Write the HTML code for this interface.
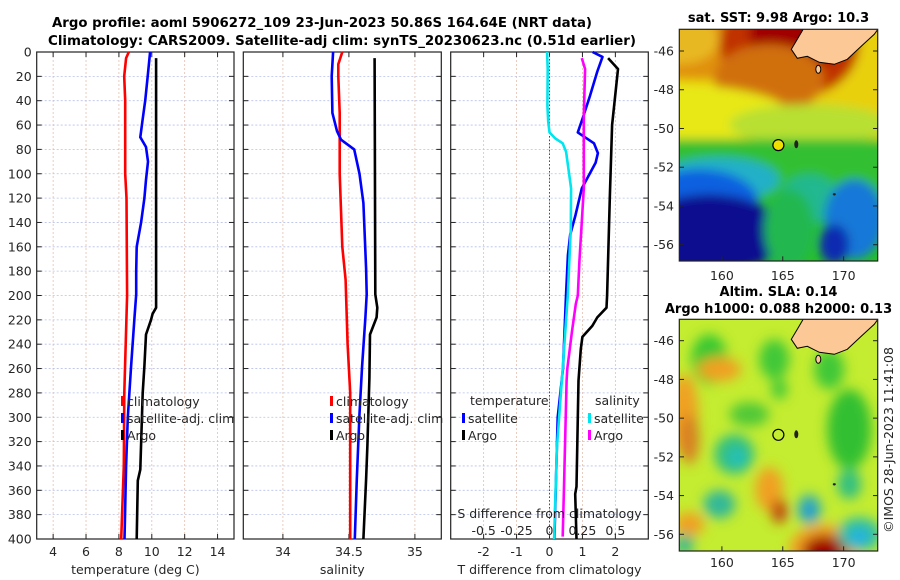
<!DOCTYPE html>
<html><head><meta charset="utf-8"><style>
html,body{margin:0;padding:0;background:#fff;width:900px;height:580px;overflow:hidden}
svg{display:block;font-family:"DejaVu Sans","Liberation Sans",sans-serif}
</style></head><body>
<svg id="fig" width="900" height="580" viewBox="0 0 900 580" xmlns="http://www.w3.org/2000/svg">
<defs>
<filter id="blur1" x="-20%" y="-20%" width="140%" height="140%"><feGaussianBlur stdDeviation="5"/></filter>
<filter id="blur2" x="-20%" y="-20%" width="140%" height="140%"><feGaussianBlur stdDeviation="6"/></filter>
<clipPath id="clipM1"><rect x="679.3" y="29.3" width="198.4" height="231.7"/></clipPath>
<clipPath id="clipM2"><rect x="679.3" y="319.3" width="198.4" height="231.7"/></clipPath>
</defs>
<text x="52" y="27" textLength="540" lengthAdjust="spacingAndGlyphs" font-weight="bold" font-size="13.4">Argo profile: aoml 5906272_109 23-Jun-2023 50.86S 164.64E (NRT data)</text>
<text x="48" y="45" textLength="588" lengthAdjust="spacingAndGlyphs" font-weight="bold" font-size="13.4">Climatology: CARS2009. Satellite-adj clim: synTS_20230623.nc (0.51d earlier)</text>
<g id="maps"></g>
<g id="panels"></g>
</svg>
<script>
// ---- data ----
const depthTicks=[0,20,40,60,80,100,120,140,160,180,200,220,240,260,280,300,320,340,360,380,400];
const tempTicks=[4,6,8,10,12,14];
const salTicks=[34,34.5,35];
const tdiffTicks=[-2,-1,0,1,2];
const sdiffTicks=[-0.5,-0.25,0,0.25,0.5];
const sdiffTickLabels=["-0.5","-0.25","0","0.25","0.5"];

const tempClimDepth=[0,5,20,40,100,120,200,280,340,400];
const tempClim=[8.6,8.44,8.32,8.38,8.38,8.46,8.5,8.33,8.3,8.14];
const tempSatDepth=[0,20,40,55,70,78,90,105,120,140,160,180,199,218,258,300,340,400];
const tempSat=[9.9,9.75,9.6,9.45,9.3,9.65,9.77,9.65,9.55,9.35,9.08,9.05,9.05,8.95,8.74,8.54,8.44,8.34];
const tempArgoDepth=[5,100,200,210,215,220,232,258,280,343,352,400];
const tempArgo=[10.26,10.26,10.26,10.26,10.05,9.95,9.65,9.55,9.45,9.3,9.15,9.08];

const salClimDepth=[0,10,20,50,100,160,187,240,280,400];
const salClim=[34.45,34.42,34.42,34.43,34.43,34.45,34.475,34.49,34.51,34.51];
const salSatDepth=[0,20,50,65,72,80,100,124,178,199,218,258,297,351,400];
const salSat=[34.38,34.37,34.375,34.41,34.44,34.54,34.58,34.61,34.63,34.635,34.625,34.6,34.58,34.56,34.545];
const salArgoDepth=[5,199,210,218,232,268,323,351,400];
const salArgo=[34.695,34.7,34.715,34.71,34.66,34.655,34.64,34.63,34.61];

const tdiffSatDepth=[0,4,16,36,55,66,75,83,91,112,134,150,167,200,260,300,400];
const tdiffSat=[1.31,1.61,1.45,1.23,1.0,0.86,1.35,1.47,1.4,0.98,0.79,0.63,0.56,0.5,0.41,0.25,0.15];
const tdiffArgoDepth=[5,14,60,120,200,210,218,225,234,244,270,357,363,400];
const tdiffArgo=[1.78,2.08,1.9,1.83,1.75,1.73,1.45,1.3,1.0,0.95,0.88,0.82,0.78,0.82];
const sdiffSatDepth=[0,14,44,57,66,71,75,82,112,145,200,260,325,400];
const sdiffSat=[-0.018,-0.014,-0.016,-0.01,0,0.043,0.1,0.126,0.164,0.162,0.139,0.10,0.056,0.035];
const sdiffArgoDepth=[5,14,52,112,172,200,207,230,260,270,357,398];
const sdiffArgo=[0.245,0.27,0.26,0.26,0.227,0.215,0.2,0.17,0.135,0.13,0.11,0.10];

const lonTicks=[160,165,170];
const latTicks=[-46,-48,-50,-52,-54,-56];
const argoLon=164.64, argoLat=-50.86;

// ---- axes ----
const NS="http://www.w3.org/2000/svg";
const TOP=52, BOT=539;
const yD=d=>TOP+d*(BOT-TOP)/400;
const P1={l:36.7,r:234}, P2={l:243.3,r:441.3}, P3={l:450.7,r:648.3};
const xT=t=>P1.l+(t-3)*(P1.r-P1.l)/12;
const xS=s=>P2.l+(s-33.7)*(P2.r-P2.l)/1.5;
const xTd=t=>P3.l+(t+3)*(P3.r-P3.l)/6;
const xSd=s=>xTd(s*4);
const lonX=(m,lon)=>679.3+(lon-156.5)*(198.4/16.3);
const latY=(m,lat)=>m.y0+(-45.0-lat)*(m.ly);

function el(tag,attrs,parent){const e=document.createElementNS(NS,tag);for(const k in attrs)e.setAttribute(k,attrs[k]);parent.appendChild(e);return e;}
const panels=document.getElementById('panels');
const maps=document.getElementById('maps');

function drawPanel(name,P,xf,ticks,labels,yLabels){
  const g=el('g',{},panels);
  
  
  ticks.forEach(t=>{const x=xf(t);
    const gl=el('line',{x1:x,x2:x,y1:TOP,y2:BOT,stroke:'#e6bfae','stroke-width':0.8,'stroke-dasharray':'2 2'},g);
    
    
  });
  depthTicks.forEach(d=>{const y=yD(d);
    const gl=el('line',{x1:P.l,x2:P.r,y1:y,y2:y,stroke:'#b8c0ec','stroke-width':0.8,'stroke-dasharray':'2 2'},g);
    
    
    el('line',{x1:P.l,x2:P.l+5,y1:y,y2:y,stroke:'#222','stroke-width':1},g);
    el('line',{x1:P.r-5,x2:P.r,y1:y,y2:y,stroke:'#222','stroke-width':1},g);
    if(yLabels){const tx=el('text',{x:P.l-5,y:y+4.5,'text-anchor':'end','font-size':12.5,fill:'#262626'},g);tx.textContent=d;
      
      }
  });
  ticks.forEach((t,i)=>{const x=xf(t);
    el('line',{x1:x,x2:x,y1:BOT,y2:BOT-5,stroke:'#222','stroke-width':1},g);
    el('line',{x1:x,x2:x,y1:TOP,y2:TOP+5,stroke:'#222','stroke-width':1},g);
    if(labels){const tx=el('text',{x:x,y:556,'text-anchor':'middle','font-size':12.5,fill:'#262626'},g);tx.textContent=labels[i];
      
      }
  });
  const fr=el('rect',{x:P.l,y:TOP,width:P.r-P.l,height:BOT-TOP,fill:'none',stroke:'#222','stroke-width':1.2},g);
  
  
  return g;
}
function line(g,name,xf,depths,vals,color){
  const pts=depths.map((d,i)=>xf(vals[i]).toFixed(1)+','+yD(d).toFixed(1)).join(' ');
  const p=el('polyline',{points:pts,fill:'none',stroke:color,'stroke-width':2.6,'stroke-linejoin':'round'},g);
  
  
}
function text(g,name,x,y,s,attrs){const t=el('text',Object.assign({x:x,y:y,'font-size':12.5,fill:'#262626'},attrs||{}),g);t.textContent=s;
  
  return t;}
function legend(g,name,x,y,entries){
  const lg=el('g',{},g);
  
  
  entries.forEach((e,i)=>{const yy=y+i*17;
    el('rect',{x:x,y:yy-9,width:3,height:10,fill:e[1]},lg);
    if(e[0]){const t=el('text',{x:x+6,y:yy+1,'font-size':12.5,fill:'#262626'},lg);t.textContent=e[0];}
  });
}

// panel 1
const g1=drawPanel('temperature-panel',P1,xT,tempTicks,tempTicks.map(String),true);
line(g1,'temp-climatology-line',xT,tempClimDepth,tempClim,'#ff0000');
line(g1,'temp-satellite-line',xT,tempSatDepth,tempSat,'#0000ff');
line(g1,'temp-argo-line',xT,tempArgoDepth,tempArgo,'#000000');
text(g1,'temperature-axis-title',(P1.l+P1.r)/2,574,'temperature (deg C)',{'text-anchor':'middle'});
legend(g1,'temperature-legend',121,405,[['climatology','#ff0000'],['satellite-adj. clim','#0000ff'],['Argo','#000']]);

// panel 2
const g2=drawPanel('salinity-panel',P2,xS,salTicks,['34','34.5','35'],false);
line(g2,'sal-climatology-line',xS,salClimDepth,salClim,'#ff0000');
line(g2,'sal-satellite-line',xS,salSatDepth,salSat,'#0000ff');
line(g2,'sal-argo-line',xS,salArgoDepth,salArgo,'#000000');
text(g2,'salinity-axis-title',(P2.l+P2.r)/2,574,'salinity',{'text-anchor':'middle'});
legend(g2,'salinity-legend',330,405,[['climatology','#ff0000'],['satellite-adj. clim','#0000ff'],['Argo','#000']]);

// panel 3
const g3=drawPanel('difference-panel',P3,xTd,tdiffTicks,tdiffTicks.map(String),false);
const zl=el('line',{x1:xTd(0),x2:xTd(0),y1:TOP,y2:BOT,stroke:'#4a5a2a','stroke-width':1,'stroke-dasharray':'1.5 2'},g3);


line(g3,'tdiff-satellite-line',xTd,tdiffSatDepth,tdiffSat,'#0000ff');
line(g3,'tdiff-argo-line',xTd,tdiffArgoDepth,tdiffArgo,'#000000');
line(g3,'sdiff-satellite-line',xSd,sdiffSatDepth,sdiffSat,'#00e5ee');
line(g3,'sdiff-argo-line',xSd,sdiffArgoDepth,sdiffArgo,'#ff00ff');
text(g3,'tdiff-axis-title',(P3.l+P3.r)/2,574,'T difference from climatology',{'text-anchor':'middle'});
text(g3,'sdiff-axis-title',(P3.l+P3.r)/2,518,'S difference from climatology',{'text-anchor':'middle'});
sdiffTicks.forEach((s,i)=>text(g3,'sdiff-tick-label',xSd(s),535,sdiffTickLabels[i],{'text-anchor':'middle'}));
text(g3,'legend-temperature-heading',470,405,'temperature');
legend(g3,'tdiff-legend',462,422,[['satellite','#0000ff'],['Argo','#000']]);
text(g3,'legend-salinity-heading',595,405,'salinity');
legend(g3,'sdiff-legend',588,422,[['satellite','#00e5ee'],['Argo','#ff00ff']]);

// ---- maps ----
const M1={name:'sst-map', clip:'clipM1', top:29.3};
const M2={name:'sla-map', clip:'clipM2', top:319.3};
M1.ly=(244.7-51)/10; M1.y0=51-1*M1.ly;
M2.ly=(534.3-340.7)/10; M2.y0=340.7-1*M2.ly;
function blob(g,lx,ly,w,h,c,shape){
  const m=g._m;
  if(shape==='e') el('ellipse',{cx:679.3+lx,cy:m.top+ly,rx:w,ry:h,fill:c},g);
  else el('rect',{x:679.3+lx,y:m.top+ly,width:w,height:h,fill:c},g);
}
function drawMap(m,fill,blobs,title1,title2,xlabY,blurId){
  const g=el('g',{},maps);
  
  
  const c=el('g',{'clip-path':'url(#'+m.clip+')'},g);
  el('rect',{x:679.3,y:m.top,width:198.4,height:231.7,fill:fill},c);
  const b=el('g',{filter:'url(#'+blurId+')'},c);b._m=m;
  blobs.forEach(a=>blob(b,...a));
  const pts=[[125,-2],[200,-2],[195,5],[183,16],[168,30],[155,35],[140,33],[128,27],[118,29],[112,20],[118,10]].map(p=>(679.3+p[0])+','+(m.top+p[1])).join(' ');
  const land=el('polygon',{points:pts,fill:'#fcc896',stroke:'#000','stroke-width':1},c);
  
  
  el('ellipse',{cx:679.3+139,cy:m.top+40,rx:2.5,ry:4,fill:'#fcc896',stroke:'#000','stroke-width':1},c);
  el('ellipse',{cx:679.3+117,cy:m.top+115,rx:2,ry:4,fill:'#222'},c);
  el('ellipse',{cx:679.3+155,cy:m.top+165,rx:1.5,ry:1.2,fill:'#222'},c);
  const cx=lonX(m,argoLon), cy=latY(m,argoLat);
  const mk=el('circle',{cx:cx,cy:cy,r:5.5,fill:m.name==='sst-map'?'#f0e000':'none',stroke:'#000','stroke-width':1.2},g);
  
  
  el('rect',{x:679.3,y:m.top,width:198.4,height:231.7,fill:'none',stroke:'#222','stroke-width':1.2},g);
  latTicks.forEach(l=>{const y=latY(m,l);
    el('line',{x1:679.3,x2:684,y1:y,y2:y,stroke:'#222'},g);
    el('line',{x1:873,x2:877.7,y1:y,y2:y,stroke:'#222'},g);
    text(g,'lat-tick-label',674,y+4.5,String(l),{'text-anchor':'end'});});
  lonTicks.forEach(l=>{const x=lonX(m,l);
    el('line',{x1:x,x2:x,y1:m.top+231.7,y2:m.top+227,stroke:'#222'},g);
    text(g,'lon-tick-label',x,xlabY,String(l),{'text-anchor':'middle'});});
  text(g,'map-title',778.5,m.name==='sst-map'?22:296,title1,{'text-anchor':'middle','font-weight':'bold','font-size':13,fill:'#000'});
  if(title2) text(g,'map-subtitle',778.5,313,title2,{'text-anchor':'middle','font-weight':'bold','font-size':13,fill:'#000'});
}
drawMap(M1,'#28c028',[
  [-10,-10,220,120,'#e8d010'],[20,0,120,50,'#e09010','e'],[0,10,40,25,'#e8b820','e'],
  [110,15,70,55,'#c03000','e'],[120,5,50,35,'#a00000','e'],[90,50,55,35,'#d07010','e'],
  [-10,85,120,30,'#e8e818','e'],[130,95,80,20,'#b8e030','e'],
  [-10,110,220,60,'#30c030'],[40,150,60,22,'#20b0c8','e'],
  [20,175,60,35,'#1060e0','e'],[30,205,75,40,'#080890','e'],[0,230,40,20,'#080890','e'],
  [130,170,30,25,'#20b890','e'],[175,190,30,40,'#1878d8','e'],[155,215,15,20,'#0a2ab0','e'],
  [110,200,25,40,'#20b850','e']
],'sat. SST: 9.98 Argo: 10.3',null,280,'blur1');
drawMap(M2,'#c4ec30',[
  [30,40,18,25,'#38c830','e'],[95,40,15,20,'#40c838','e'],[150,50,15,20,'#40c838','e'],[170,110,22,40,'#30c030','e'],
  [100,70,8,10,'#40c838','e'],[40,50,22,12,'#f0a020','e'],[5,95,14,40,'#f0a020','e'],[10,120,10,25,'#d88020','e'],
  [55,135,20,20,'#30c080','e'],[58,138,9,9,'#20c0c0','e'],[40,185,16,14,'#30b898','e'],[90,170,14,22,'#f0a020','e'],
  [100,192,8,12,'#c04010','e'],[130,190,12,15,'#30b0b0','e'],[130,192,5,8,'#2090e0','e'],
  [145,230,35,25,'#f0a020','e'],[145,232,22,16,'#a00000','e'],[180,215,22,17,'#30c0a0','e'],[180,218,10,8,'#20b0e8','e'],
  [10,205,15,12,'#f0a020','e'],[5,225,10,10,'#30b890','e'],[170,165,12,15,'#30c080','e'],[70,95,20,12,'#50c838','e']
],'Altim. SLA: 0.14','Argo h1000: 0.088 h2000: 0.13',567,'blur2');

const cr=el('text',{x:0,y:0,'font-size':12.5,fill:'#262626','text-anchor':'middle',transform:'translate(893,440) rotate(-90)'},maps);
cr.textContent='©IMOS 28-Jun-2023 11:41:08';


</script>
</body></html>
